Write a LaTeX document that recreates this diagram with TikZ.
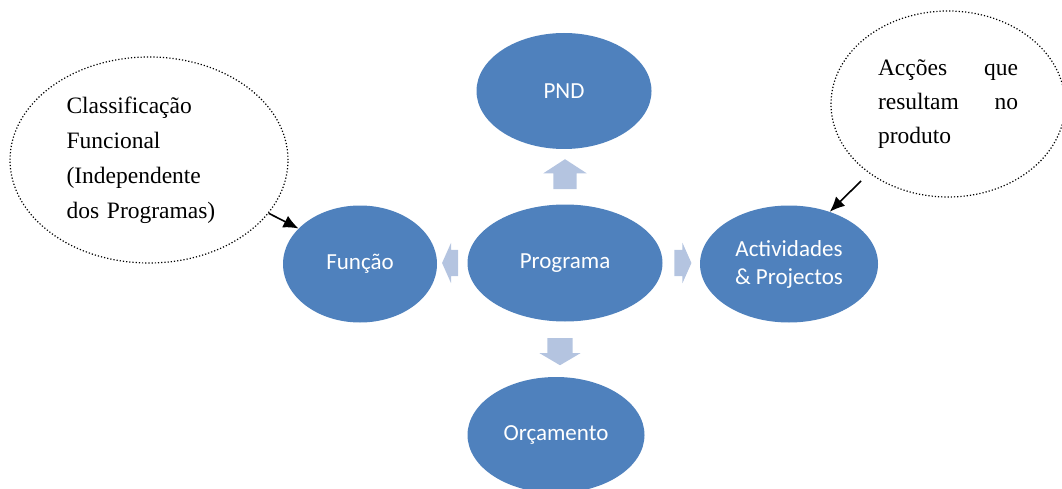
\documentclass[tikz,border=0pt]{standalone}
\usepackage{fontspec}
\setmainfont{Liberation Serif}
\newfontfamily\blobfont{Carlito}
\usetikzlibrary{positioning,shapes.geometric,shapes.arrows,arrows.meta}
\definecolor{boxblue}{RGB}{79,129,189}
\definecolor{arrblue}{RGB}{180,196,224}

\begin{document}
\begin{tikzpicture}[x=1pt,y=-1pt,
  blob/.style={ellipse,fill=boxblue,text=white,inner sep=0pt,align=center,font=\blobfont\fontsize{23}{28}\selectfont},
  note/.style={ellipse,draw,dotted,line width=1.2pt,inner sep=0pt,align=left,font=\fontsize{23.5}{35}\selectfont},
  blockarr/.style={single arrow,fill=arrblue,inner sep=0pt,single arrow head indent=0pt},
  pointer/.style={-{Latex[length=15pt,width=13pt]},line width=1.6pt}]
  \useasboundingbox (0,0) rectangle (1062,489);
  \clip (0,0) rectangle (1062,489);

  \node[blob,minimum width=175pt,minimum height=116pt] (pnd) at (564,91) {PND};
  \node[blob,minimum width=195pt,minimum height=117pt] (prog) at (565,263) {Programa};
  \node[blob,minimum width=154pt,minimum height=117pt] (funcao) at (360,264) {Função};
  \node[blob,minimum width=178pt,minimum height=117pt] (activ) at (789,264) {Actividades\\\& Projectos};
  \node[blob,minimum width=177pt,minimum height=116pt] (orc) at (556,435) {Orçamento};

  \node[blockarr,shape border rotate=90,minimum height=30pt,inner xsep=11.5pt,single arrow head extend=10pt,single arrow tip angle=114] (up) at (565,178) {};
  \node[blockarr,shape border rotate=270,minimum height=27pt,inner xsep=12.5pt,single arrow head extend=8pt,single arrow tip angle=119] (down) at (560,348) {};
  \node[blockarr,shape border rotate=180,minimum height=16pt,inner ysep=13pt,single arrow head extend=7pt,single arrow tip angle=132] (left) at (453,263) {};
  \node[blockarr,minimum height=17pt,inner ysep=13pt,single arrow head extend=7pt,single arrow tip angle=132] (right) at (680,263) {};

  \node[note,minimum width=278pt,minimum height=206pt,text width=165pt] (classe) at (149,160)
    {Classificação\\Funcional\\(Independente\\dos Programas)};
  \node[note,minimum width=234pt,minimum height=186pt,text width=140pt,font=\fontsize{23.5}{34}\selectfont] (accoes) at (948,104)
    {\leavevmode\hbox to 140pt{Acções\hfill que}\\\leavevmode\hbox to 140pt{resultam\hfill no}\\produto};
  \coordinate (accoestail) at (861,181);

  \draw[pointer] (classe.-24) -- (funcao.150);
  \draw[pointer] (accoestail) -- (activ.52);
\end{tikzpicture}
\end{document}
